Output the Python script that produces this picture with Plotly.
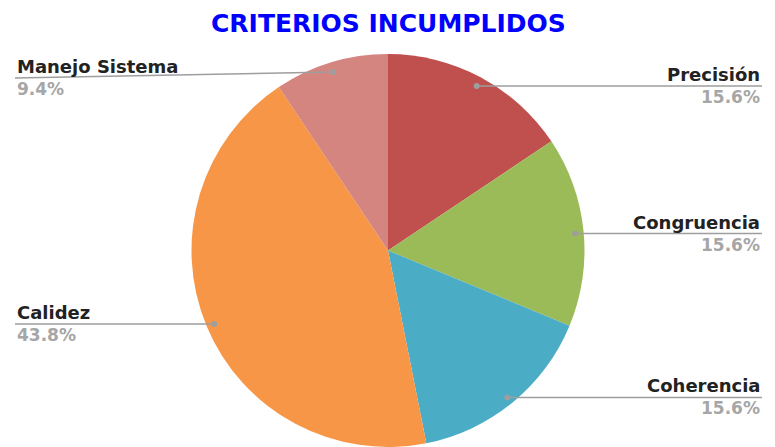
import math
import plotly.graph_objects as go

# ---- data ----
categories = ["Precisión", "Congruencia", "Coherencia", "Calidez", "Manejo Sistema"]
values = [5, 5, 5, 14, 3]
colors = ["#c0504d", "#9bbb59", "#4bacc6", "#f79646", "#d4857f"]
title_text = "CRITERIOS INCUMPLIDOS"

# ---- layout constants (pixels) ----
W, H = 775, 447
CX, CY, R = 388, 252, 198          # pie centre (screen px) and radius
DOT_R = 0.95                       # leader dot at fraction of radius
LEFT_X, RIGHT_X = 15, 762          # label line ends
LABEL_MIN_Y = 78                   # labels cannot go above this (title space)
FONT = "DejaVu Sans"

def px(x):
    return x / W

def py(y):
    return (H - y) / H

fig = go.Figure(go.Pie(
    labels=categories,
    values=values,
    marker=dict(colors=colors, line=dict(width=0)),
    sort=False,
    direction="clockwise",
    rotation=0,
    textinfo="none",
    hoverinfo="label+percent",
    showlegend=False,
    domain=dict(x=[px(CX - R), px(CX + R)], y=[max(0, py(CY + R)), py(CY - R)]),
))

total = sum(values)
shapes = []
annotations = []
cum = 0.0
for name, v in zip(categories, values):
    mid = (cum + v / 2) / total * 2 * math.pi
    cum += v
    dx = math.sin(mid) * R * DOT_R
    dy = -math.cos(mid) * R * DOT_R
    dot_x, dot_y = CX + dx, CY + dy
    right = dx > 0
    end_x = RIGHT_X if right else LEFT_X
    line_y = max(dot_y, LABEL_MIN_Y)
    pct = f"{v / total * 100:.1f}%"
    shapes.append(dict(type="line", xref="paper", yref="paper",
                       x0=px(dot_x), y0=py(dot_y), x1=px(end_x), y1=py(line_y),
                       line=dict(color="#9e9e9e", width=1.5)))
    shapes.append(dict(type="circle", xref="paper", yref="paper",
                       xsizemode="pixel", ysizemode="pixel",
                       xanchor=px(dot_x), yanchor=py(dot_y),
                       x0=-3, x1=3, y0=-3, y1=3,
                       fillcolor="#9e9e9e", line=dict(width=0)))
    anchor = "right" if right else "left"
    annotations.append(dict(x=px(end_x), y=py(line_y), xref="paper", yref="paper",
                            text=f"<b>{name}</b>", showarrow=False,
                            xanchor=anchor, yanchor="bottom", yshift=-1,
                            font=dict(family=FONT, size=18, color="#222222")))
    annotations.append(dict(x=px(end_x), y=py(line_y), xref="paper", yref="paper",
                            text=f"<b>{pct}</b>", showarrow=False,
                            xanchor=anchor, yanchor="top", yshift=1,
                            font=dict(family=FONT, size=17, color="#a6a6a6")))

annotations.append(dict(x=px(388), y=py(23), xref="paper", yref="paper",
                        text=f"<b>{title_text}</b>", showarrow=False,
                        xanchor="center", yanchor="middle",
                        font=dict(family=FONT, size=25, color="#0000ff")))

fig.update_layout(
    width=W, height=H,
    margin=dict(l=0, r=0, t=0, b=0),
    paper_bgcolor="white",
    plot_bgcolor="white",
    shapes=shapes,
    annotations=annotations,
)

fig.write_html("out.html", config={"displayModeBar": False},
               post_script="document.body.style.margin='0';")
